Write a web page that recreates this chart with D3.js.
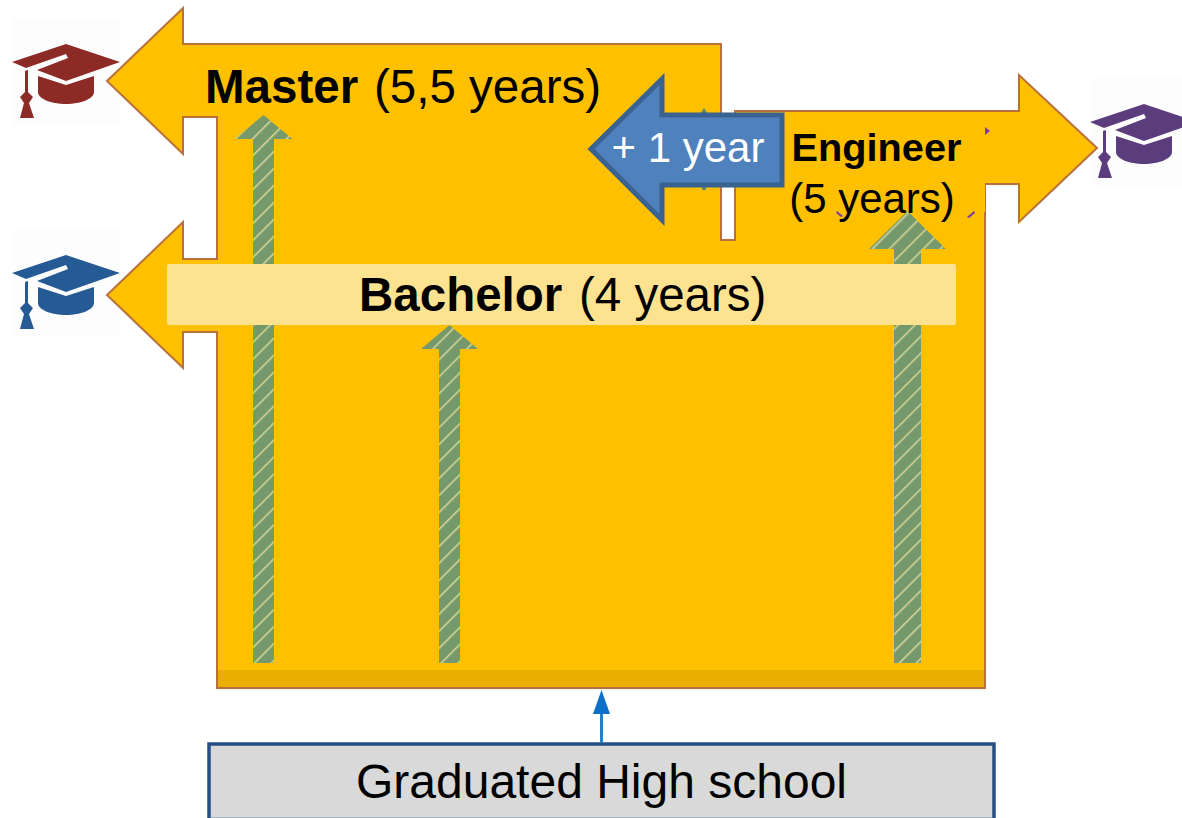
<!DOCTYPE html>
<html>
<head>
<meta charset="utf-8">
<script src="https://cdn.jsdelivr.net/npm/d3@7"></script>
<style>
  html, body { margin: 0; padding: 0; background: #fff; overflow: hidden; }
  text { font-family: "Liberation Sans", Arial, sans-serif; fill: #000; }
</style>
</head>
<body>
<svg id="chart"></svg>
<script>
// data
var programmes = ["Master", "Bachelor", "Engineer"];
var durations = ["(5,5 years)", "(4 years)", "(5 years)"];
var years = [5.5, 4, 5];
var capColors = ["#8c2a26", "#265a95", "#5b3d7e"];
var extraLabel = "+ 1 year";
var startLabel = "Graduated High school";

var svgWidth = 1182, svgHeight = 818;
var base = 663;   // foot of the striped arrows

var svg = d3.select("#chart")
    .attr("width", svgWidth)
    .attr("height", svgHeight);

// years -> height of the arrow tip (the picture is not to scale, so piecewise)
var yYears = d3.scaleLinear().domain([0, 4, 5, 5.5]).range([base, 325, 211, 115]);
var xProg = d3.scaleOrdinal().domain(programmes).range([263.5, 449.5, 907.5]);
var shaftW = d3.scaleOrdinal().domain(programmes).range([21, 21, 27]);
var headW = d3.scaleOrdinal().domain(programmes).range([58, 57, 77]);
var headH = d3.scaleOrdinal().domain(programmes).range([24, 24, 38]);

var line = d3.line();

// stripes
var pat = svg.append("defs").append("pattern")
    .attr("id", "stripes")
    .attr("patternUnits", "userSpaceOnUse")
    .attr("width", 12).attr("height", 12)
    .attr("patternTransform", "rotate(45)");
pat.append("rect").attr("width", 12).attr("height", 12).attr("fill", "#76996b");
pat.append("rect").attr("width", 1.6).attr("height", 12).attr("fill", "#cfd396");

// graduation caps (under the orange arrows, their boxes touch the tips)
var capPlace = [[0, 0], [0, 211], [1078, 60]];
var cap = svg.selectAll("g.cap")
    .data(programmes)
    .enter()
    .append("g")
    .attr("class", "cap")
    .attr("transform", function(d, i) {
      return "translate(" + capPlace[i] + ")";
    });
cap.append("rect")
    .attr("x", 12).attr("y", 18)
    .attr("width", 109).attr("height", 108)
    .attr("fill", "#fdfdfd");
cap.append("path")
    .attr("d", line([[12, 62], [66, 44], [120, 62], [66, 81], [37, 70], [68, 58], [66, 54], [26, 68]]) + "Z")
    .attr("fill", function(d, i) { return capColors[i]; });
cap.append("path")
    .attr("d", "M38,76L66,85L94,76V92C94,99 80,104 66,104C52,104 38,99 38,92Z")
    .attr("fill", function(d, i) { return capColors[i]; });
cap.append("path")
    .attr("d", line([[25, 71], [28, 70], [28, 92], [33, 97], [29, 103], [34, 118],
                     [20, 118], [24, 103], [20, 97], [25, 92]]) + "Z")
    .attr("fill", function(d, i) { return capColors[i]; });

// main orange shape
var outline = [
  [107, 81], [183, 8], [183, 44], [721, 44], [721, 240], [735, 240], [735, 111],
  [1019, 111], [1019, 75], [1097, 148], [1019, 222], [1019, 184], [985, 184],
  [985, 688], [217, 688], [217, 332], [183, 332], [183, 368], [107, 295],
  [183, 222], [183, 259], [217, 259], [217, 117], [183, 117], [183, 154]
];
svg.append("path")
    .attr("d", line(outline) + "Z")
    .attr("fill", "#ffc000")
    .attr("stroke", "#b8703c")
    .attr("stroke-width", 2)
    .attr("stroke-linejoin", "miter");

// darker strip along the bottom
svg.append("rect")
    .attr("x", 218).attr("y", 670)
    .attr("width", 766).attr("height", 17)
    .attr("fill", "#e9ae00");

// arrow hidden behind the blue one, only its tips show
svg.append("path")
    .attr("d", line([[700, 114], [704, 108], [708, 114], [706, 190], [702, 190]]) + "Z")
    .attr("fill", "#5f8a6a");

// leftovers of a purple shape under the engineer patch
svg.append("path")
    .attr("d", line([[985, 127], [990, 131], [985, 135]]) + "Z")
    .attr("fill", "#7a3fa0");

// striped arrows
svg.selectAll("path.up")
    .data(programmes)
    .enter()
    .append("path")
    .attr("class", "up")
    .attr("fill", "url(#stripes)")
    .attr("d", function(d, i) {
      var x = xProg(d), top = yYears(years[i]);
      var s = shaftW(d) / 2, h = headW(d) / 2, neck = top + headH(d);
      return line([[x - s, base], [x - s, neck], [x - h, neck], [x, top],
                   [x + h, neck], [x + s, neck], [x + s, base]]) + "Z";
    });

// patch that sits behind the engineer label
svg.append("rect")
    .attr("x", 736).attr("y", 112)
    .attr("width", 249).attr("height", 100)
    .attr("fill", "#ffc000");

// the two other purple leftovers
svg.append("path")
    .attr("d", line([[837, 211], [843, 216], [841, 217], [836, 213]]) + "Z")
    .attr("fill", "#7a3fa0");
svg.append("path")
    .attr("d", line([[967, 217], [974, 211], [975, 213], [969, 218]]) + "Z")
    .attr("fill", "#7a3fa0");

// bachelor band
svg.append("rect")
    .attr("x", 167).attr("y", 264)
    .attr("width", 789).attr("height", 61)
    .attr("rx", 2)
    .attr("fill", "#fde38f");

// +1 year arrow
svg.append("path")
    .attr("d", line([[591, 149], [662, 79], [662, 115], [782, 115], [782, 185],
                     [662, 185], [662, 220]]) + "Z")
    .attr("fill", "#4f81bd")
    .attr("stroke", "#3a6291")
    .attr("stroke-width", 5);

// start box and its arrow
svg.append("rect")
    .attr("x", 209).attr("y", 744)
    .attr("width", 785).attr("height", 90)
    .attr("fill", "#d9d9d9")
    .attr("stroke", "#264f85")
    .attr("stroke-width", 3.5);
svg.append("rect")
    .attr("x", 211).attr("y", 817)
    .attr("width", 781).attr("height", 1)
    .attr("fill", "#a8b4c4");
svg.append("line")
    .attr("x1", 601.5).attr("x2", 601.5)
    .attr("y1", 743).attr("y2", 710)
    .attr("stroke", "#1c82d0")
    .attr("stroke-width", 3);
svg.append("path")
    .attr("d", line([[593, 714], [601.5, 690], [610, 714]]) + "Z")
    .attr("fill", "#0a70c8");

// labels
function label(x, y, size, text, bold, anchor) {
  return svg.append("text")
      .attr("x", x).attr("y", y)
      .attr("font-size", size)
      .attr("font-weight", bold ? "bold" : "normal")
      .attr("text-anchor", anchor || "start")
      .text(text);
}

label(205, 103, 47.5, programmes[0], true);
label(374, 103, 47.5, durations[0], false);
label(359, 311, 47.5, programmes[1], true);
label(579, 311, 47.5, durations[1], false);
label(876.5, 161, 39.7, programmes[2], true, "middle");
label(872, 213, 42, durations[2], false, "middle");
label(688, 162, 42, extraLabel, false, "middle").style("fill", "#fff");
label(601.5, 798, 48, startLabel, false, "middle");
</script>
</body>
</html>
